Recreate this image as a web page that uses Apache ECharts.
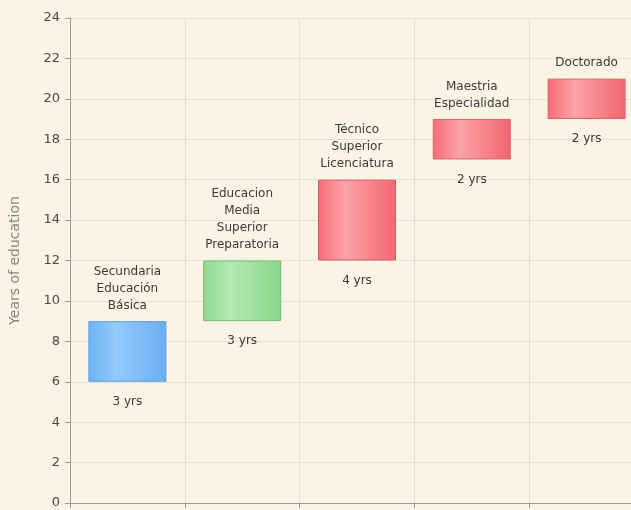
<!DOCTYPE html>
<html>
<head>
<meta charset="utf-8">
<script src="https://cdn.jsdelivr.net/npm/echarts@6/dist/echarts.min.js"></script>
<style>
    html, body { margin: 0; padding: 0; overflow: hidden; background: #fbf4e5; }
    #chart { width: 650px; height: 510px; }
</style>
</head>
<body>
<div id="chart"></div>
<script>
// niveles educativos
var categories = ['Secundaria\nEducación\nBásica', 'Educacion\nMedia\nSuperior\nPreparatoria', 'Técnico\nSuperior\nLicenciatura', 'Maestria\nEspecialidad', 'Doctorado'];
var startYears = [6, 9, 12, 17, 19];
var endYears = [9, 12, 16, 19, 21];
var durationLabels = ['3 yrs', '3 yrs', '4 yrs', '2 yrs', '2 yrs'];
var yTicks = [0, 2, 4, 6, 8, 10, 12, 14, 16, 18, 20, 22, 24];

// colores de cada barra (izq, centro, der, borde)
var blue = ['#70b2f3', '#92cafa', '#6cadf2', '#5c9fe0'];
var green = ['#90d890', '#b2e9b2', '#8bd58b', '#74bd74'];
var red = ['#f46c76', '#fca3a8', '#f2656f', '#d9606a'];
var barColors = [blue, green, red, red, red];

function grad(c) {
    return new echarts.graphic.LinearGradient(0, 0, 1, 0, [
        {offset: 0, color: c[0]},
        {offset: 0.35, color: c[1]},
        {offset: 1, color: c[2]}
    ]);
}

var baseData = startYears.map(function (v, i) {
    return {
        value: v,
        label: {formatter: durationLabels[i]}
    };
});
var rangeData = endYears.map(function (v, i) {
    return {
        value: v - startYears[i],
        itemStyle: {color: grad(barColors[i]), borderColor: barColors[i][3]},
        label: {formatter: categories[i]}
    };
});

var myChart = echarts.init(document.getElementById('chart'));
var option = {
    backgroundColor: '#fbf4e5',
    animation: false,
    grid: {left: 70, right: 6, top: 18, bottom: 7},
    xAxis: {
        type: 'category',
        data: categories,
        axisLabel: {show: false},
        axisLine: {lineStyle: {color: '#a09a90'}},
        axisTick: {show: true, lineStyle: {color: '#a09a90'}},
        splitLine: {show: true, lineStyle: {color: '#e6e0d2'}}
    },
    yAxis: {
        type: 'value',
        min: yTicks[0],
        max: yTicks[yTicks.length - 1],
        interval: 2,
        name: 'Years of education',
        nameLocation: 'middle',
        nameGap: 48,
        nameTextStyle: {fontFamily: 'DejaVu Sans', fontSize: 14, color: '#858585'},
        axisLine: {show: true, lineStyle: {color: '#a09a90'}},
        axisTick: {show: true, length: 5, lineStyle: {color: '#a09a90'}},
        axisLabel: {fontFamily: 'DejaVu Sans', fontSize: 13, color: '#4a4a4a', margin: 10},
        splitLine: {lineStyle: {color: '#e6e0d2'}}
    },
    series: [
        {
            type: 'bar',
            stack: 'edu',
            barWidth: 78,
            itemStyle: {color: 'transparent'},
            label: {
                show: true,
                position: 'insideTop',
                distance: 14,
                fontFamily: 'DejaVu Sans',
                fontSize: 12,
                color: '#3a3a3a'
            },
            data: baseData
        },
        {
            type: 'bar',
            stack: 'edu',
            barWidth: 78,
            itemStyle: {borderWidth: 1},
            label: {
                show: true,
                position: 'top',
                distance: 7,
                fontFamily: 'DejaVu Sans',
                fontSize: 12,
                lineHeight: 17,
                color: '#3a3a3a'
            },
            data: rangeData
        }
    ]
};
myChart.setOption(option);
</script>
</body>
</html>
